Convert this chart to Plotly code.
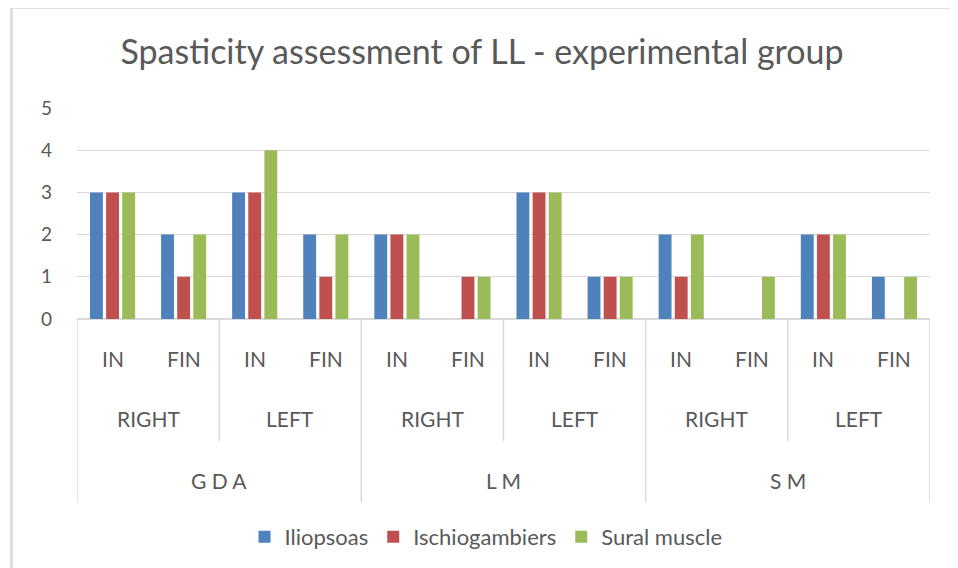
import plotly.graph_objects as go

# ---- data ----
groups = ["G D A", "L M", "S M"]
sides = ["RIGHT", "LEFT"]
phases = ["IN", "FIN"]
series_names = ["Iliopsoas", "Ischiogambiers", "Sural muscle"]
iliopsoas = [3, 2, 3, 2, 2, 0, 3, 1, 2, 0, 2, 1]
ischiogambiers = [3, 1, 3, 1, 2, 1, 3, 1, 1, 0, 2, 0]
sural_muscle = [3, 2, 4, 2, 2, 1, 3, 1, 2, 1, 2, 1]
y_ticks = [0, 1, 2, 3, 4, 5]

colors = ["#4F81BD", "#C0504D", "#9BBB59"]
OFF = 8  # page body margin
W, H = 958 - OFF, 568 - OFF
# plot area in screen pixels: x 77..930, y 108..319
L, R, T, B = 77 - OFF, (958 - OFF) - (930 - OFF), 108 - OFF, (568 - OFF) - (319 - OFF)
pw, ph = W - L - R, H - T - B
FONT = "Lato, 'Open Sans', sans-serif"
GREY = "#595959"
LINE = "#D9D9D9"

def px_x(x):  # screen x -> paper
    return (x - OFF - L) / pw

def px_y(y):  # screen y -> paper
    return (H - B - (y - OFF)) / ph

n = len(groups) * len(sides) * len(phases)
xs = list(range(n))

fig = go.Figure()
for name, vals, c in zip(series_names, [iliopsoas, ischiogambiers, sural_muscle], colors):
    fig.add_trace(go.Bar(x=xs, y=vals, name=name, marker=dict(color=c, line=dict(width=0))))

annotations = []
shapes = []
LBL = 21
# level 1: IN / FIN
for i in range(n):
    annotations.append(dict(x=i, y=px_y(358), xref="x", yref="paper", text=phases[i % 2],
                            xanchor="center", yanchor="middle",
                            showarrow=False, font=dict(family=FONT, size=LBL, color=GREY)))
# level 2: RIGHT / LEFT
for j in range(n // 2):
    annotations.append(dict(x=2 * j + 0.5, y=px_y(418), xref="x", yref="paper", text=sides[j % 2],
                            xanchor="center", yanchor="middle",
                            showarrow=False, font=dict(family=FONT, size=LBL, color=GREY)))
    if j % 2 == 0:
        shapes.append(dict(type="line", xref="x", yref="paper", x0=2 * j + 1.5, x1=2 * j + 1.5,
                           y0=0, y1=px_y(441), line=dict(color=LINE, width=1.5)))
# level 3: groups
for k, g in enumerate(groups):
    annotations.append(dict(x=4 * k + 1.5, y=px_y(480), xref="x", yref="paper", text=g,
                            xanchor="center", yanchor="middle",
                            showarrow=False, font=dict(family=FONT, size=LBL, color=GREY)))
for b in range(len(groups) + 1):
    shapes.append(dict(type="line", xref="x", yref="paper", x0=4 * b - 0.5, x1=4 * b - 0.5,
                       y0=0, y1=px_y(502), line=dict(color=LINE, width=1.5)))

# chart border
shapes.append(dict(type="rect", xref="paper", yref="paper", x0=px_x(11.5), x1=px_x(957),
                   y0=px_y(590), y1=px_y(7.5), line=dict(color=LINE, width=2.5), layer="below"))

fig.update_layout(
    width=W, height=H,
    margin=dict(l=L, r=R, t=T, b=B, autoexpand=False),
    paper_bgcolor="white", plot_bgcolor="white",
    barmode="group", bargap=0.32, bargroupgap=0.2,
    title=dict(text="Spasticity assessment of LL - experimental group", x=px_x(482), xref="paper",
               xanchor="center", y=1 - (52 - OFF) / H, yanchor="middle",
               font=dict(family=FONT, size=34, color=GREY)),
    xaxis=dict(range=[-0.5, n - 0.5], showticklabels=False, showgrid=False, zeroline=False,
               showline=False, ticks=""),
    yaxis=dict(range=[0, 5], tickvals=y_ticks, showgrid=True, gridcolor=LINE, gridwidth=1,
               zeroline=True, zerolinecolor=LINE, zerolinewidth=1.5, showline=False, ticks="",
               ticklabelstandoff=24, tickfont=dict(family=FONT, size=19, color=GREY)),
    legend=dict(orientation="h", x=px_x(486), xanchor="center", y=px_y(537), yanchor="middle",
                font=dict(family=FONT, size=22, color=GREY), traceorder="normal",
                itemwidth=30),
    annotations=annotations, shapes=shapes, showlegend=True,
)

fig.write_html("out.html")
